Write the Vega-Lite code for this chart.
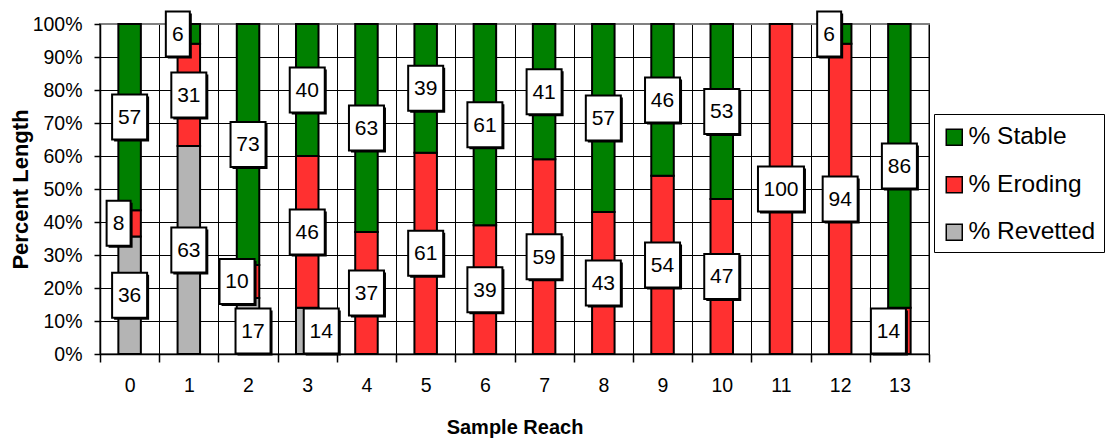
{
  "$schema": "https://vega.github.io/schema/vega-lite/v6.json",
  "width": 829,
  "height": 330,
  "autosize": {"type": "none"},
  "padding": {"left": 100, "top": 24, "right": 176, "bottom": 85},
  "background": "white",
  "config": {
    "font": "Liberation Sans",
    "view": {"stroke": "#808080", "strokeWidth": 2},
    "axis": {
      "labelFont": "Liberation Sans",
      "titleFont": "Liberation Sans",
      "labelColor": "black",
      "titleColor": "black",
      "domainColor": "black",
      "tickColor": "black",
      "gridColor": "black",
      "gridWidth": 1,
      "domainWidth": 1.5,
      "tickWidth": 1.5
    }
  },
  "resolve": {"axis": {"y": "independent"}},
  "data": {
    "values": [
      {"reach": 0, "type": "% Revetted", "value": 36},
      {"reach": 0, "type": "% Eroding", "value": 8},
      {"reach": 0, "type": "% Stable", "value": 57},
      {"reach": 1, "type": "% Revetted", "value": 63},
      {"reach": 1, "type": "% Eroding", "value": 31},
      {"reach": 1, "type": "% Stable", "value": 6},
      {"reach": 2, "type": "% Revetted", "value": 17},
      {"reach": 2, "type": "% Eroding", "value": 10},
      {"reach": 2, "type": "% Stable", "value": 73},
      {"reach": 3, "type": "% Revetted", "value": 14},
      {"reach": 3, "type": "% Eroding", "value": 46},
      {"reach": 3, "type": "% Stable", "value": 40},
      {"reach": 4, "type": "% Revetted", "value": 0},
      {"reach": 4, "type": "% Eroding", "value": 37},
      {"reach": 4, "type": "% Stable", "value": 63},
      {"reach": 5, "type": "% Revetted", "value": 0},
      {"reach": 5, "type": "% Eroding", "value": 61},
      {"reach": 5, "type": "% Stable", "value": 39},
      {"reach": 6, "type": "% Revetted", "value": 0},
      {"reach": 6, "type": "% Eroding", "value": 39},
      {"reach": 6, "type": "% Stable", "value": 61},
      {"reach": 7, "type": "% Revetted", "value": 0},
      {"reach": 7, "type": "% Eroding", "value": 59},
      {"reach": 7, "type": "% Stable", "value": 41},
      {"reach": 8, "type": "% Revetted", "value": 0},
      {"reach": 8, "type": "% Eroding", "value": 43},
      {"reach": 8, "type": "% Stable", "value": 57},
      {"reach": 9, "type": "% Revetted", "value": 0},
      {"reach": 9, "type": "% Eroding", "value": 54},
      {"reach": 9, "type": "% Stable", "value": 46},
      {"reach": 10, "type": "% Revetted", "value": 0},
      {"reach": 10, "type": "% Eroding", "value": 47},
      {"reach": 10, "type": "% Stable", "value": 53},
      {"reach": 11, "type": "% Revetted", "value": 0},
      {"reach": 11, "type": "% Eroding", "value": 100},
      {"reach": 11, "type": "% Stable", "value": 0},
      {"reach": 12, "type": "% Revetted", "value": 0},
      {"reach": 12, "type": "% Eroding", "value": 94},
      {"reach": 12, "type": "% Stable", "value": 6},
      {"reach": 13, "type": "% Revetted", "value": 0},
      {"reach": 13, "type": "% Eroding", "value": 14},
      {"reach": 13, "type": "% Stable", "value": 86}
    ]
  },
  "transform": [
    {"calculate": "indexof(['% Revetted','% Eroding','% Stable'], datum.type)", "as": "ord"},
    {"stack": "value", "groupby": ["reach"], "sort": [{"field": "ord", "order": "ascending"}], "offset": "normalize", "as": ["y0", "y1"]},
    {"calculate": "(datum.y0 + datum.y1) / 2", "as": "mid"}
  ],
  "layer": [
    {
      "mark": {"type": "bar", "stroke": "black", "strokeWidth": 2, "width": {"band": 0.38}},
      "encoding": {
        "x": {
          "field": "reach",
          "type": "ordinal",
          "scale": {"paddingInner": 0, "paddingOuter": 0},
          "axis": {
            "title": "Sample Reach",
            "labelAngle": 0,
            "labelFontSize": 19.5,
            "tickSize": 8,
            "labelPadding": 14,
            "tickBand": "extent",
            "grid": true,
            "titleFontSize": 20,
            "titleFontWeight": "bold",
            "titleY": 73,
            "titleBaseline": "middle"
          }
        },
        "y": {
          "field": "y0",
          "type": "quantitative",
          "scale": {"domain": [0, 1], "nice": false},
          "axis": {
            "title": "Percent Length",
            "values": [0, 0.1, 0.2, 0.3, 0.4, 0.5, 0.6, 0.7, 0.8, 0.9, 1],
            "format": ".0%",
            "labelFontSize": 19.5,
            "tickSize": 6,
            "labelPadding": 12,
            "grid": true,
            "gridColor": {"condition": {"test": "datum.value == 1", "value": "#808080"}, "value": "black"},
            "titleFontSize": 22,
            "titleFontWeight": "bold",
            "titleX": -80,
            "titleY": 165,
            "titleAngle": -90,
            "titleBaseline": "middle",
            "titleAlign": "center"
          }
        },
        "y2": {"field": "y1"},
        "color": {
          "field": "type",
          "type": "nominal",
          "scale": {"domain": ["% Stable", "% Eroding", "% Revetted"], "range": ["#008000", "#FF3030", "#B4B4B4"]},
          "legend": {
            "title": " ",
            "titleFontSize": 2,
            "titlePadding": 1,
            "orient": "none",
            "legendX": 834,
            "legendY": 90,
            "strokeColor": "black",
            "fillColor": "white",
            "padding": 8,
            "symbolType": "square",
            "symbolSize": 256,
            "symbolStrokeColor": "black",
            "symbolStrokeWidth": 1.5,
            "symbolOpacity": 1,
            "labelFontSize": 24.5,
            "labelFont": "Liberation Sans",
            "labelColor": "black",
            "rowPadding": 22.5,
            "labelOffset": 2
          }
        }
      }
    },
    {
      "transform": [{"filter": "datum.value > 0"}],
      "mark": {"type": "point", "filled": true, "fill": "black", "strokeWidth": 0, "opacity": 1, "size": 2025},
      "encoding": {
        "x": {"field": "reach", "type": "ordinal"},
        "y": {"field": "mid", "type": "quantitative", "axis": null},
        "shape": {
          "condition": [
            {"test": "(datum.reach==0 && datum.type=='% Eroding') || (datum.type=='% Stable' && (datum.reach==1 || datum.reach==12))", "value": "M-0.933,-0.911H0.133V1.089H-0.933Z"},
            {"test": "datum.type=='% Eroding' && (datum.reach==2 || datum.reach==13)", "value": "M-1.178,-0.911H0.378V1.089H-1.178Z"},
            {"test": "datum.type=='% Revetted' && datum.reach==2", "value": "M-0.467,-0.689H1.089V1.311H-0.467Z"},
            {"test": "datum.type=='% Revetted' && datum.reach==3", "value": "M-0.067,-0.911H1.489V1.089H-0.067Z"},
            {"test": "datum.value >= 100", "value": "M-0.933,-0.911H1.111V1.089H-0.933Z"},
            {"test": "datum.value >= 10", "value": "M-0.689,-0.911H0.867V1.089H-0.689Z"}
          ],
          "value": "M-0.444,-0.911H0.622V1.089H-0.444Z"
        }
      }
    },
    {
      "transform": [{"filter": "datum.value > 0"}],
      "mark": {"type": "point", "filled": true, "fill": "white", "stroke": "black", "strokeWidth": 2, "opacity": 1, "size": 2025},
      "encoding": {
        "x": {"field": "reach", "type": "ordinal"},
        "y": {"field": "mid", "type": "quantitative", "axis": null},
        "shape": {
          "condition": [
            {"test": "(datum.reach==0 && datum.type=='% Eroding') || (datum.type=='% Stable' && (datum.reach==1 || datum.reach==12))", "value": "M-1.022,-1H0.044V1H-1.022Z"},
            {"test": "datum.type=='% Eroding' && (datum.reach==2 || datum.reach==13)", "value": "M-1.267,-1H0.289V1H-1.267Z"},
            {"test": "datum.type=='% Revetted' && datum.reach==2", "value": "M-0.556,-0.778H1V1.222H-0.556Z"},
            {"test": "datum.type=='% Revetted' && datum.reach==3", "value": "M-0.156,-1H1.4V1H-0.156Z"},
            {"test": "datum.value >= 100", "value": "M-1.022,-1H1.022V1H-1.022Z"},
            {"test": "datum.value >= 10", "value": "M-0.778,-1H0.778V1H-0.778Z"}
          ],
          "value": "M-0.533,-1H0.533V1H-0.533Z"
        }
      }
    },
    {
      "transform": [{"filter": "datum.value > 0 && !((datum.reach==0 && datum.type=='% Eroding') || (datum.type=='% Stable' && (datum.reach==1 || datum.reach==12)) || (datum.type=='% Eroding' && (datum.reach==2 || datum.reach==13)) || (datum.type=='% Revetted' && (datum.reach==2 || datum.reach==3)))"}],
      "mark": {"type": "text", "fontSize": 21, "font": "Liberation Sans", "color": "black", "baseline": "middle", "align": "center", "dy": 1},
      "encoding": {
        "x": {"field": "reach", "type": "ordinal"},
        "y": {"field": "mid", "type": "quantitative", "axis": null},
        "text": {"field": "value", "type": "quantitative"}
      }
    },
    {
      "transform": [{"filter": "(datum.reach==0 && datum.type=='% Eroding') || (datum.type=='% Stable' && (datum.reach==1 || datum.reach==12)) || (datum.type=='% Eroding' && (datum.reach==2 || datum.reach==13))"}],
      "mark": {"type": "text", "fontSize": 21, "font": "Liberation Sans", "color": "black", "baseline": "middle", "align": "center", "dx": -11, "dy": 1},
      "encoding": {
        "x": {"field": "reach", "type": "ordinal"},
        "y": {"field": "mid", "type": "quantitative", "axis": null},
        "text": {"field": "value", "type": "quantitative"}
      }
    },
    {
      "transform": [{"filter": "datum.type=='% Revetted' && datum.reach==2"}],
      "mark": {"type": "text", "fontSize": 21, "font": "Liberation Sans", "color": "black", "baseline": "middle", "align": "center", "dx": 5, "dy": 6},
      "encoding": {
        "x": {"field": "reach", "type": "ordinal"},
        "y": {"field": "mid", "type": "quantitative", "axis": null},
        "text": {"field": "value", "type": "quantitative"}
      }
    },
    {
      "transform": [{"filter": "datum.type=='% Revetted' && datum.reach==3"}],
      "mark": {"type": "text", "fontSize": 21, "font": "Liberation Sans", "color": "black", "baseline": "middle", "align": "center", "dx": 14, "dy": 1},
      "encoding": {
        "x": {"field": "reach", "type": "ordinal"},
        "y": {"field": "mid", "type": "quantitative", "axis": null},
        "text": {"field": "value", "type": "quantitative"}
      }
    }
  ]
}
